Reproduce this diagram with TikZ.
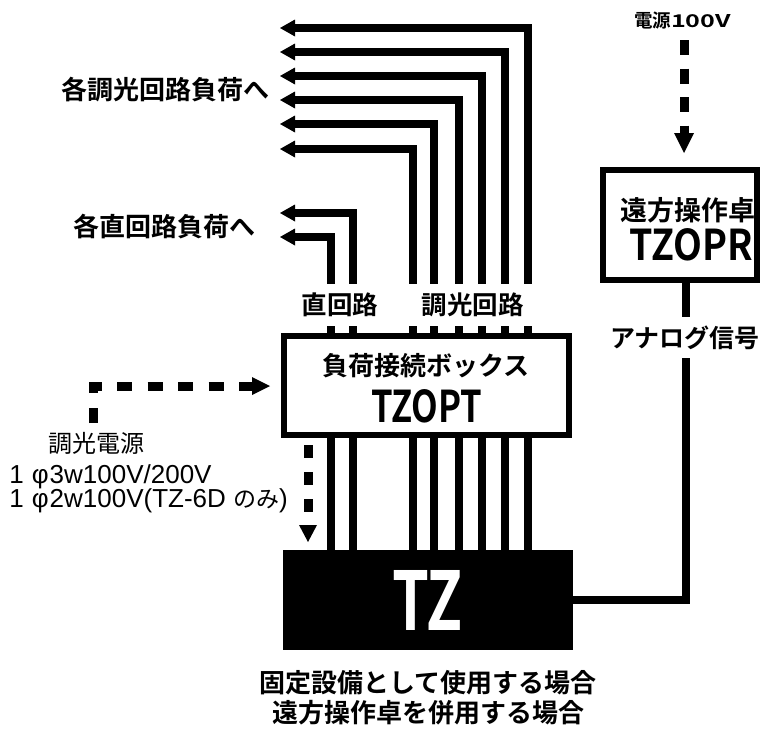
\documentclass[tikz,border=0pt]{standalone}
\usepackage{fontspec}
\usetikzlibrary{arrows.meta}
\setmainfont{Liberation Sans}
\newfontfamily\jpb{Noto Sans CJK JP Bold}
\newfontfamily\jpr{Noto Sans CJK JP}
\newfontfamily\lat{Liberation Sans}
\newcommand\fsz[1]{\fontsize{#1pt}{#1pt}\selectfont}
\begin{document}
\begin{tikzpicture}[x=1pt,y=-1pt,
  wire/.style={line width=8pt,-{Triangle[width=17pt,length=15pt,line width=0pt]}},
  plainwire/.style={line width=8pt},
  box/.style={draw,line width=6.5pt,fill=white,inner sep=0pt,outer sep=0pt},
  dsh/.style={line width=9pt,-{Triangle[width=18pt,length=18pt,line width=0pt]}},
  gap/.style={fill=white,inner sep=0pt},
  bl/.style={inner sep=0pt,font={\jpb\fsz{26}}}]
\useasboundingbox (0,0) rectangle (760,728);
% main unit
\node[fill=black,inner sep=0pt,outer sep=0pt,minimum width=290pt,minimum height=100pt,text=white] (tz) at (428,600) {\resizebox{70pt}{60pt}{\jpb TZ}};
% columns and tips
\coordinate (c1) at (413,0); \coordinate (c2) at (434,0); \coordinate (c3) at (459,0);
\coordinate (c4) at (482,0); \coordinate (c5) at (505,0); \coordinate (c6) at (528,0);
\coordinate (d1) at (331,0); \coordinate (d2) at (353,0);
\coordinate (t1) at (280,149); \coordinate (t2) at (280,124); \coordinate (t3) at (280,100);
\coordinate (t4) at (280,76);  \coordinate (t5) at (280,52);  \coordinate (t6) at (280,28);
\coordinate (s1) at (280,237); \coordinate (s2) at (280,213);
\foreach \i in {1,...,6} { \draw[wire] (tz.north -| c\i) |- (t\i); }
\draw[wire] (tz.north -| d1) |- (s1);
\draw[wire] (tz.north -| d2) |- (s2);
% load connection box
\node[box,minimum width=285pt,minimum height=99pt] (opt) at (426.5,385.5) {};
\node[bl] (optj) at (426,366) {負荷接続ボックス};
\node[inner sep=0pt] (optl) at (427,406.5) {\resizebox{111pt}{33pt}{\jpb TZOPT}};
% circuit labels
\node[bl,gap,font={\jpb\fsz{25.5}},minimum height=42pt] (dl) at (340,305) {直回路};
\node[bl,gap,font={\jpb\fsz{25.5}},minimum height=42pt,minimum width=130pt] (ml) at (472.5,305) {調光回路};
% load labels
\node[bl] (lm) at (165,90) {各調光回路負荷へ};
\node[bl] (ld) at (164,227) {各直回路負荷へ};
% remote console
\node[box,minimum width=154pt,minimum height=110pt] (opr) at (680,225) {};
\node[bl,font={\jpb\fsz{27}}] (oprj) at (688,210.5) {遠方操作卓};
\node[inner sep=0pt] (oprl) at (691.5,245) {\resizebox{123pt}{32pt}{\jpb TZOPR}};
\coordinate (ac) at (686,0);
\draw[plainwire] (opr.south -| ac) |- (tz.east);
\node[bl,gap,font={\jpb\fsz{25}},minimum height=41pt] (an) at (685,337.5) {アナログ信号};
% power 100V
\node[inner sep=0pt,font={\jpb\fsz{18.5}}] (pw) at (682.5,21) {電源\resizebox{60pt}{13pt}{\jpb 100V}};
\coordinate (p1) at (684,40); \coordinate (p2) at (684,153);
\draw[line width=9pt,dash pattern=on 15pt off 13.5pt,-{Triangle[width=20pt,length=20pt,line width=0pt]}] (p1) -- (p2);
% dimmer power
\coordinate (l0) at (93,423); \coordinate (l2) at (270,386);
\draw[dsh,dash pattern=on 15pt off 15.5pt] (l0) |- (l2);
\coordinate (q1) at (308,445); \coordinate (q2) at (308,542);
\draw[dsh,dash pattern=on 12.5pt off 14.5pt,-{Triangle[width=18pt,length=17pt,line width=0pt]}] (q1) -- (q2);
\node[inner sep=0pt,font={\jpr\fsz{24}}] (src) at (96.5,443) {調光電源};
\node[inner sep=0pt,anchor=base west,font={\lat\fsz{26}}] (v1) at (9.2,483) {1\kern8ptφ\kern1pt3w100V/200V};
\node[inner sep=0pt,anchor=base west,font={\lat\fsz{26}}] (v2) at (9.2,507) {1\kern8ptφ\kern1pt2w100V(TZ-6D {\jpr\fsz{23}のみ})};
% caption
\node[bl] (cap1) at (428,683) {固定設備として使用する場合};
\node[bl] (cap2) at (428,713) {遠方操作卓を併用する場合};
\end{tikzpicture}
\end{document}
